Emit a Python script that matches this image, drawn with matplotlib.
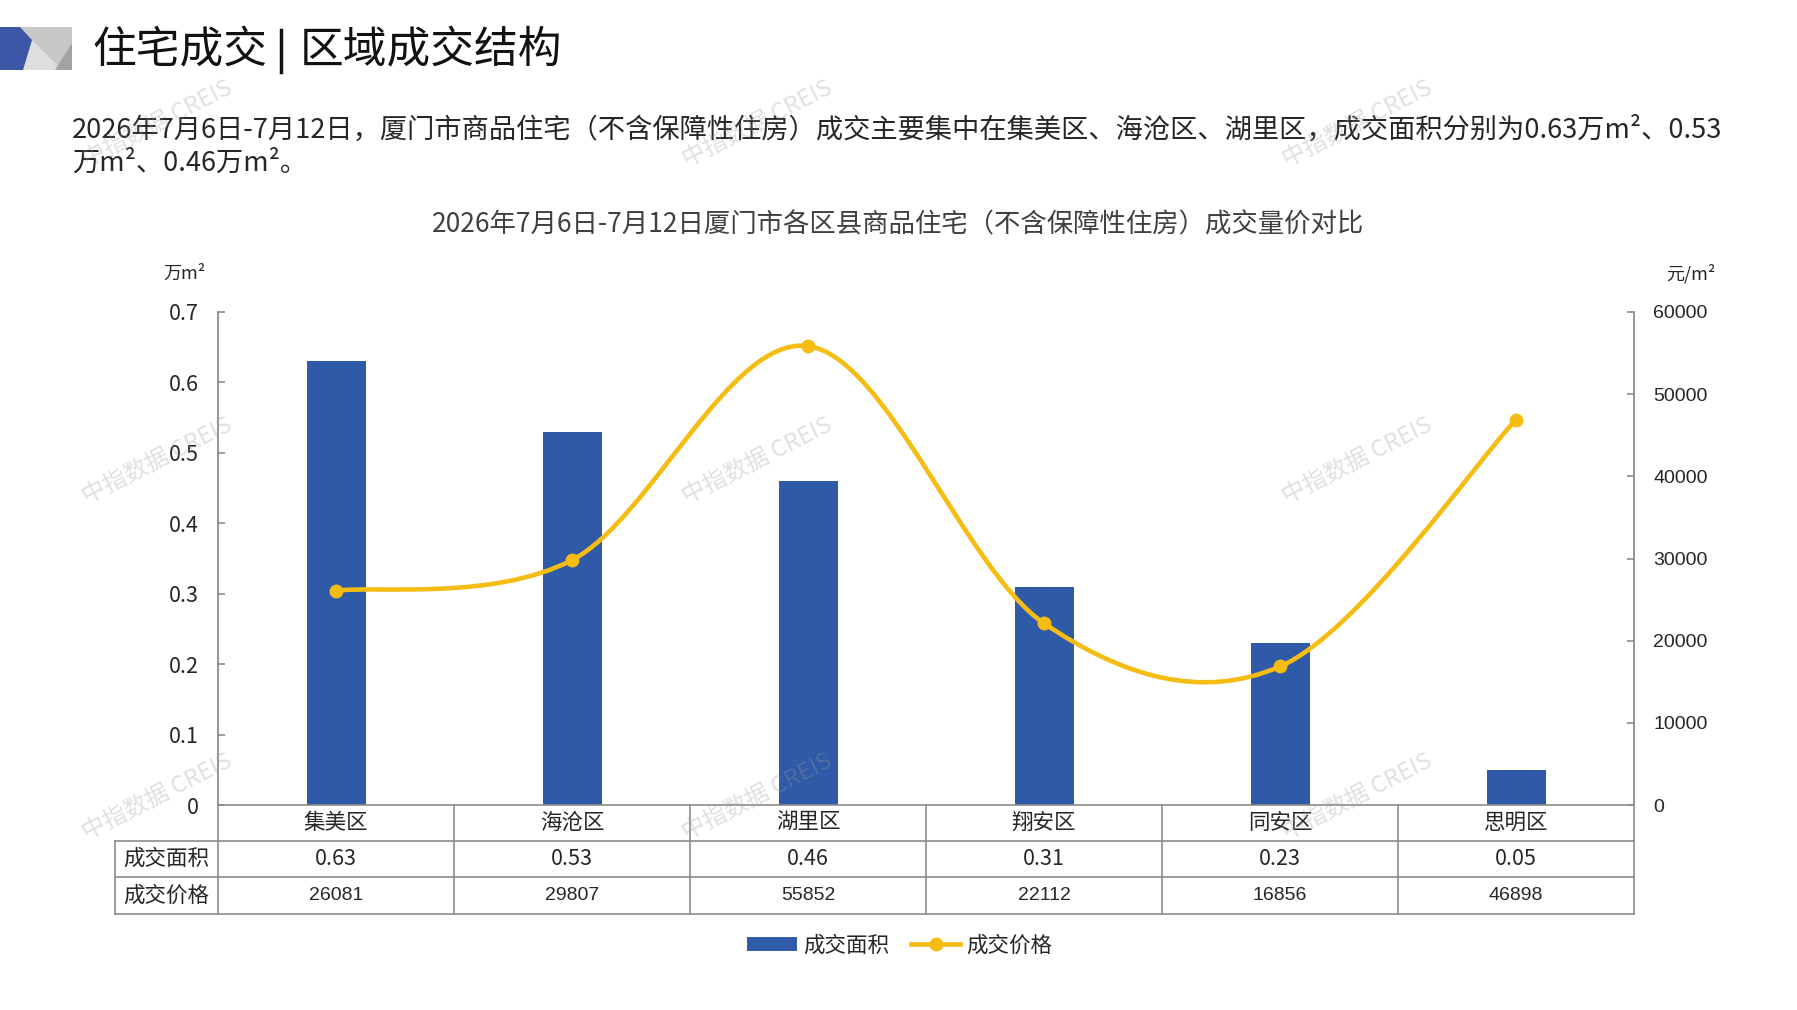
import numpy as np
import matplotlib
matplotlib.use("Agg")
import matplotlib.pyplot as plt
import matplotlib.patches as mpatches
from matplotlib.lines import Line2D
from matplotlib.path import Path

CJK = ["Noto Sans CJK SC", "DejaVu Sans"]
plt.rcParams["font.family"] = CJK

# data
districts = ["集美区", "海沧区", "湖里区", "翔安区", "同安区", "思明区"]
area = [0.63, 0.53, 0.46, 0.31, 0.23, 0.05]
price = [26081, 29807, 55852, 22112, 16856, 46898]
area_ticks = [0, 0.1, 0.2, 0.3, 0.4, 0.5, 0.6, 0.7]
price_ticks = [0, 10000, 20000, 30000, 40000, 50000, 60000]
row_names = ["成交面积", "成交价格"]

BLUE = "#2E5AA7"
YELLOW = "#F5BC12"
GRID = "#8C8C8C"
TXT = "#262626"

W, H = 1797, 1010
fig = plt.figure(figsize=(W / 100, H / 100), dpi=100)


def fx(px):
    return px / W


def fy(py):
    return 1 - py / H


def poly(pts, color):
    fig.patches.append(
        mpatches.Polygon([(fx(a), fy(b)) for a, b in pts], closed=True,
                         transform=fig.transFigure, facecolor=color,
                         edgecolor="none")
    )


# header logo
poly([(20, 27), (72, 27), (72, 70), (20, 70)], "#C8C8C8")
poly([(32, 40), (23, 70), (62, 70)], "#DEDEDE")
poly([(72, 43), (72, 70), (55, 70)], "#A3A3A3")
poly([(0, 27), (20, 27), (32, 40), (23, 70), (0, 70)], "#3B57A6")

fig.text(fx(92), fy(50), "住宅成交", fontsize=31.5, color="#111111",
         ha="left", va="center")
fig.add_artist(Line2D([fx(281), fx(281)], [fy(30), fy(72)], color="#111111",
                      lw=2.5, transform=fig.transFigure))
fig.text(fx(300), fy(50), "区域成交结构", fontsize=31.5, color="#111111",
         ha="left", va="center")

fig.text(fx(72), fy(130),
         "2026年7月6日-7月12日，厦门市商品住宅（不含保障性住房）成交主要集中在集美区、"
         "海沧区、湖里区，成交面积分别为0.63万m²、0.53",
         fontsize=19.6, color=TXT, ha="left", va="center")
fig.text(fx(72), fy(163), "万m²、0.46万m²。", fontsize=19.6, color=TXT,
         ha="left", va="center")

fig.text(fx(898), fy(225),
         "2026年7月6日-7月12日厦门市各区县商品住宅（不含保障性住房）成交量价对比",
         fontsize=19, color="#404040", ha="center", va="center")
fig.text(fx(185), fy(274), "万m²", fontsize=13, color=TXT, ha="center",
         va="center")
fig.text(fx(1691), fy(274), "元/m²", fontsize=13, color=TXT, ha="center",
         va="center")

# main axes
ax = fig.add_axes([fx(218), fy(805), fx(1634) - fx(218), fy(312) - fy(805)])
x = np.arange(len(districts))
ax.bar(x, area, width=0.25, color=BLUE, zorder=2)
ax.set_xlim(-0.5, len(districts) - 0.5)
ax.set_ylim(0, 0.7)
ax.set_yticks(area_ticks)
ax.set_yticklabels(["0" if t == 0 else f"{t:.1f}" for t in area_ticks])
ax.set_xticks([])
for s in ["top", "bottom", "right"]:
    ax.spines[s].set_visible(False)
ax.spines["left"].set_color(GRID)
ax.spines["left"].set_linewidth(1.3)
ax.tick_params(axis="y", direction="in", length=5, color=GRID, width=1.2,
               labelsize=15.5, labelcolor=TXT, pad=14)

ax2 = ax.twinx()
ax2.set_ylim(0, 60000)
ax2.set_yticks(price_ticks)
for s in ["top", "bottom", "left"]:
    ax2.spines[s].set_visible(False)
ax2.spines["right"].set_color(GRID)
ax2.spines["right"].set_linewidth(1.3)
ax2.tick_params(axis="y", direction="in", length=5, color=GRID, width=1.2,
                labelsize=14, labelcolor=TXT, pad=14)
for lab in ax2.get_yticklabels():
    lab.set_family("Liberation Sans")

# smoothed price line (cubic Bezier through the points)
P = np.column_stack([x, price]).astype(float)
n = len(P)
verts = [tuple(P[0])]
codes = [Path.MOVETO]
for i in range(n - 1):
    prev = P[i - 1] if i > 0 else P[i]
    nxt = P[i + 2] if i + 2 < n else P[i + 1]
    c1 = P[i] + (P[i + 1] - prev) / 6
    c2 = P[i + 1] - (nxt - P[i]) / 6
    verts += [tuple(c1), tuple(c2), tuple(P[i + 1])]
    codes += [Path.CURVE4] * 3
ax2.add_patch(mpatches.PathPatch(Path(verts, codes), fill=False,
                                 edgecolor=YELLOW, lw=3.3, capstyle="round",
                                 zorder=3))
ax2.plot(x, price, "o", color=YELLOW, ms=9, zorder=4)

# data table under the axes
tr = ax.get_xaxis_transform()
ax_h = 805 - 312
r = [0, -36 / ax_h, -72 / ax_h, -109 / ax_h]
xl = (115 - 218) / ((1634 - 218) / len(districts)) - 0.5
xr = len(districts) - 0.5


def hline(y, x0, x1):
    ax.add_line(Line2D([x0, x1], [y, y], color=GRID, lw=1.2, transform=tr,
                       clip_on=False))


def vline(xv, y0, y1):
    ax.add_line(Line2D([xv, xv], [y0, y1], color=GRID, lw=1.2, transform=tr,
                       clip_on=False))


hline(r[0], -0.5, xr)
for y in r[1:]:
    hline(y, xl, xr)
for b in np.arange(-0.5, xr + 0.01, 1):
    vline(b, r[0], r[3])
vline(xl, r[1], r[3])

for i, d in enumerate(districts):
    ax.text(i, (r[0] + r[1]) / 2, d, transform=tr, ha="center", va="center",
            fontsize=15.5, color=TXT)
    ax.text(i, (r[1] + r[2]) / 2, f"{area[i]:.2f}", transform=tr,
            ha="center", va="center", fontsize=15.5, color=TXT)
    ax.text(i, (r[2] + r[3]) / 2, f"{price[i]}", transform=tr, ha="center",
            va="center", fontsize=14, color=TXT, family="Liberation Sans")
for j, name in enumerate(row_names):
    ax.text((xl - 0.5) / 2, (r[j + 1] + r[j + 2]) / 2, name, transform=tr,
            ha="center", va="center", fontsize=15.5, color=TXT)

# legend
handles = [
    Line2D([], [], color=BLUE, lw=10, solid_capstyle="butt"),
    Line2D([], [], color=YELLOW, lw=3.3, marker="o", ms=9),
]
fig.legend(handles, row_names, loc="center", bbox_to_anchor=(fx(900), fy(946)),
           ncol=2, frameon=False, fontsize=15.5, handlelength=2.3,
           columnspacing=1.0, handletextpad=0.3, labelcolor=TXT)

# watermarks
for wx in [157, 757, 1357]:
    for wy in [124, 461, 797]:
        fig.text(fx(wx), fy(wy), "中指数据 CREIS", fontsize=17, rotation=27,
                 color="#9A9A9A", alpha=0.3, ha="center", va="center",
                 zorder=10)

fig.savefig("out.png", dpi=100)
